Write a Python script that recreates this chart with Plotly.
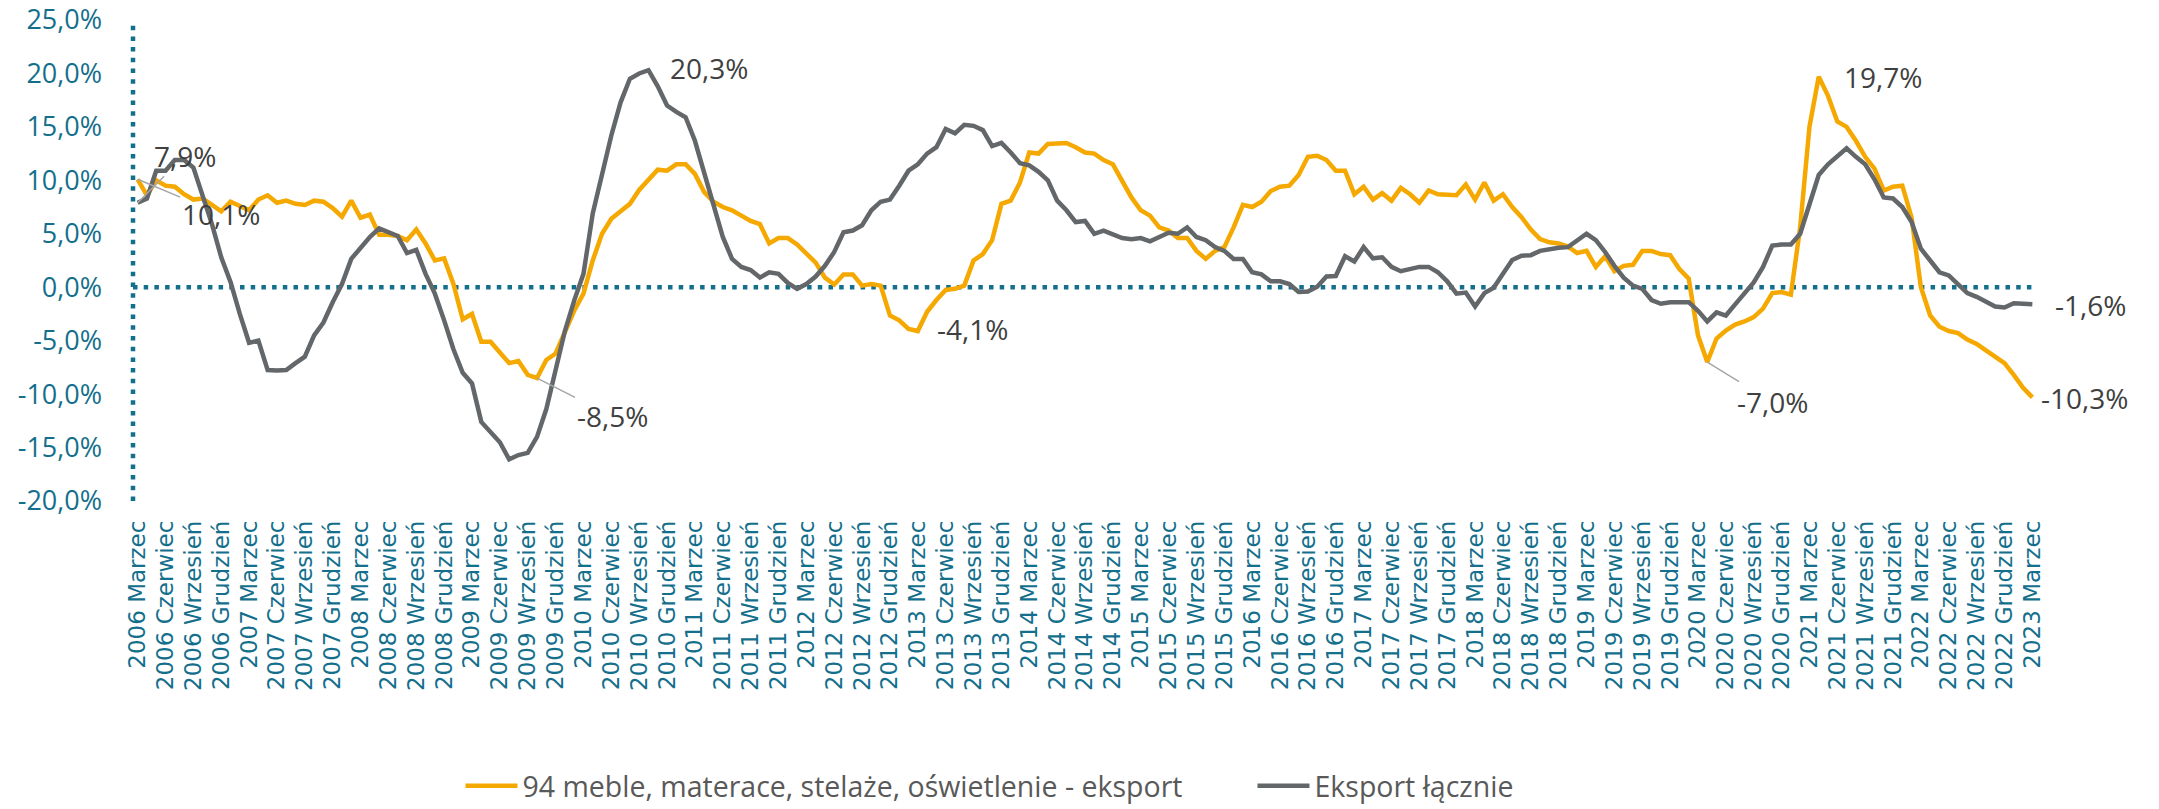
import plotly.graph_objects as go

# okres: 2006 Marzec - 2023 Marzec, dane miesięczne (dynamika r/r, %)
MIESIACE = ["Styczeń", "Luty", "Marzec", "Kwiecień", "Maj", "Czerwiec",
            "Lipiec", "Sierpień", "Wrzesień", "Październik", "Listopad", "Grudzień"]
POCZATEK = (2006, 3)
KONIEC = (2023, 3)

NAZWA_MEBLE = "94 meble, materace, stelaże, oświetlenie - eksport"
NAZWA_LACZNIE = "Eksport łącznie"

meble_eksport = [
    10.1, 8.6, 10.0, 9.5, 9.4, 8.7, 8.2, 8.3, 7.7, 7.1, 8.0, 7.6,
    7.2, 8.2, 8.6, 7.9, 8.1, 7.8, 7.7, 8.1, 8.0, 7.4, 6.6, 8.1,
    6.5, 6.8, 4.9, 4.9, 4.8, 4.4, 5.4, 4.1, 2.5, 2.7, 0.3, -3.0,
    -2.5, -5.1, -5.1, -6.1, -7.1, -6.9, -8.2, -8.5, -6.8, -6.2, -4.1, -2.2,
    -0.6, 2.5, 5.0, 6.4, 7.1, 7.8, 9.1, 10.0, 11.0, 10.9, 11.5, 11.5,
    10.6, 8.9, 8.0, 7.5, 7.2, 6.7, 6.2, 5.9, 4.1, 4.6, 4.6, 4.0,
    3.1, 2.3, 0.9, 0.25, 1.2, 1.2, 0.15, 0.3, 0.15, -2.65, -3.1, -3.9,
    -4.1, -2.3, -1.2, -0.25, -0.15, 0.15, 2.5, 3.1, 4.4, 7.8, 8.1, 9.8,
    12.6, 12.5, 13.4, 13.4, 13.5, 13.1, 12.6, 12.5, 11.9, 11.5, 10.0, 8.4,
    7.2, 6.7, 5.6, 5.3, 4.6, 4.6, 3.4, 2.65, 3.4, 3.75, 5.6, 7.7,
    7.5, 8.0, 9.0, 9.4, 9.5, 10.5, 12.2, 12.3, 11.9, 10.9, 10.9, 8.7,
    9.4, 8.2, 8.8, 8.1, 9.3, 8.7, 7.9, 9.05, 8.7, 8.6, 8.6, 9.6,
    8.2, 9.8, 8.1, 8.7, 7.5, 6.55, 5.4, 4.5, 4.2, 4.1, 3.8, 3.2,
    3.4, 1.9, 2.9, 1.5, 2.0, 2.1, 3.4, 3.4, 3.1, 3.0, 1.7, 0.8,
    -4.5, -7.0, -4.8, -4.05, -3.5, -3.2, -2.8, -2.0, -0.55, -0.45, -0.7, 5.6,
    15.0, 19.7, 17.9, 15.5, 15.0, 13.7, 12.2, 11.1, 9.05, 9.4, 9.5, 6.5,
    0.0, -2.65, -3.7, -4.1, -4.3, -4.9, -5.3, -5.9, -6.55, -7.1, -8.2, -9.4, -10.3,
]

eksport_lacznie = [
    7.9, 8.3, 10.9, 10.9, 11.9, 11.9, 11.2, 8.7, 5.9, 2.8, 0.5, -2.5,
    -5.2, -5.0, -7.75, -7.8, -7.75, -7.1, -6.5, -4.5, -3.3, -1.4, 0.3, 2.65,
    3.75, 4.7, 5.5, 5.2, 4.8, 3.2, 3.5, 1.25, -0.6, -3.1, -5.8, -8.0,
    -9.0, -12.6, -13.6, -14.5, -16.1, -15.7, -15.5, -14.0, -11.4, -7.8, -4.1, -1.25,
    1.25, 6.9, 10.6, 14.2, 17.3, 19.5, 20.0, 20.3, 18.8, 17.0, 16.4, 15.9,
    13.7, 10.6, 7.5, 4.7, 2.65, 1.9, 1.6, 0.9, 1.4, 1.25, 0.4, -0.15,
    0.3, 1.0, 2.0, 3.3, 5.15, 5.3, 5.8, 7.2, 8.0, 8.2, 9.5, 10.9,
    11.5, 12.5, 13.1, 14.8, 14.4, 15.2, 15.1, 14.7, 13.2, 13.5, 12.6, 11.6,
    11.4, 10.8, 10.0, 8.1, 7.2, 6.1, 6.2, 5.0, 5.3, 5.0, 4.6, 4.5,
    4.6, 4.3, 4.7, 5.1, 5.0, 5.6, 4.7, 4.4, 3.75, 3.4, 2.65, 2.65,
    1.4, 1.2, 0.55, 0.55, 0.3, -0.45, -0.4, 0.05, 1.0, 1.05, 2.9, 2.4,
    3.75, 2.7, 2.8, 1.9, 1.5, 1.7, 1.9, 1.9, 1.4, 0.55, -0.6, -0.5,
    -1.8, -0.55, -0.05, 1.25, 2.55, 2.95, 3.0, 3.4, 3.6, 3.7, 3.75, 4.4,
    5.0, 4.4, 3.3, 2.0, 0.9, 0.15, -0.15, -1.2, -1.55, -1.4, -1.35, -1.4,
    -2.2, -3.2, -2.35, -2.65, -1.6, -0.6, 0.45, 1.9, 3.9, 4.0, 4.0, 5.0,
    7.8, 10.5, 11.5, 12.3, 13.0, 12.2, 11.5, 10.1, 8.4, 8.3, 7.5, 6.1,
    3.6, 2.5, 1.4, 1.1, 0.25, -0.55, -0.9, -1.3, -1.8, -1.9, -1.5, -1.55, -1.6,
]

# punkty z etykietami danych (indeksy miesięcy)
etykiety_meble = [0, 43, 84, 169, 181, 204]
etykiety_lacznie = [0, 55, 204]

y_ticks = [-20, -15, -10, -5, 0, 5, 10, 15, 20, 25]

KOLOR_MEBLE = "#F5A800"
KOLOR_LACZNIE = "#63676A"
KOLOR_OSI = "#146F8C"
KOLOR_TEKSTU = "#404040"

# przesunięcie etykiety względem punktu (px) i czy rysować linię odniesienia
POZYCJE = {
    ("m", 0): (83, 35, True),
    ("m", 43): (75, 38, True),
    ("m", 84): (55, -2, False),
    ("m", 169): (65, 40, True),
    ("m", 181): (64, 0, False),
    ("m", 204): (52, 1, False),
    ("l", 0): (47, -47, True),
    ("l", 55): (61, -2, False),
    ("l", 204): (58, 1, False),
}


def okresy_miesieczne(poczatek, koniec):
    """Lista etykiet 'RRRR Miesiąc' od początku do końca (włącznie)."""
    wynik = []
    for rok in range(poczatek[0], koniec[0] + 1):
        for nr, nazwa in enumerate(MIESIACE, start=1):
            if poczatek <= (rok, nr) <= koniec:
                wynik.append(f"{rok} {nazwa}")
    return wynik


def format_pl(v):
    return f"{v:.1f}%".replace(".", ",")


okresy = okresy_miesieczne(POCZATEK, KONIEC)

fig = go.Figure()
fig.add_trace(go.Scatter(x=okresy, y=meble_eksport, mode="lines", name=NAZWA_MEBLE,
                         line=dict(color=KOLOR_MEBLE, width=4.5)))
fig.add_trace(go.Scatter(x=okresy, y=eksport_lacznie, mode="lines", name=NAZWA_LACZNIE,
                         line=dict(color=KOLOR_LACZNIE, width=4.5)))

# etykiety danych
for klucz, seria in (("m", meble_eksport), ("l", eksport_lacznie)):
    indeksy = etykiety_meble if klucz == "m" else etykiety_lacznie
    for i in indeksy:
        dx, dy, linia = POZYCJE[(klucz, i)]
        wspolne = dict(x=okresy[i], y=seria[i], text=format_pl(seria[i]),
                       font=dict(family="Open Sans", size=28, color=KOLOR_TEKSTU))
        if linia:
            fig.add_annotation(**wspolne, showarrow=True, ax=dx, ay=dy,
                               arrowhead=0, arrowwidth=1.5, arrowcolor="#A6A6A6",
                               standoff=0, startstandoff=0)
        else:
            fig.add_annotation(**wspolne, showarrow=False, xshift=dx, yshift=-dy)

# kropkowana oś Y i linia zera
kropki = dict(color=KOLOR_OSI, width=4.5, dash="4.5px,6.2px")
fig.add_shape(type="line", xref="paper", yref="y", x0=0, x1=0,
              y0=y_ticks[0], y1=y_ticks[-1], line=kropki, layer="below")
fig.add_shape(type="line", xref="paper", yref="y", x0=0, x1=1,
              y0=0, y1=0, line=kropki, layer="below")

fig.update_layout(
    width=2159,
    height=809,
    template="plotly_white",
    plot_bgcolor="white",
    paper_bgcolor="white",
    separators=", ",
    margin=dict(l=133, r=122, t=20, b=308, autoexpand=False),
    showlegend=True,
    legend=dict(
        orientation="h",
        x=0.172, xanchor="left",
        y=-0.593, yanchor="middle",
        font=dict(family="Open Sans", size=28.5, color="#595959"),
        itemwidth=52,
        entrywidth=725,
        bgcolor="rgba(0,0,0,0)",
    ),
    hovermode="x unified",
)

fig.update_xaxes(
    type="category",
    range=[-0.5, len(okresy) - 0.5],
    tickmode="array",
    tickvals=okresy[::3],
    ticktext=okresy[::3],
    tickangle=-90,
    tickfont=dict(family="DejaVu Sans", size=23, color=KOLOR_OSI),
    ticklabelstandoff=14,
    showgrid=False,
    showline=False,
    zeroline=False,
    ticks="",
    automargin=False,
)

fig.update_yaxes(
    range=[y_ticks[0], y_ticks[-1]],
    tickmode="array",
    tickvals=y_ticks,
    ticktext=[format_pl(v) for v in y_ticks],
    tickfont=dict(family="Open Sans", size=27, color=KOLOR_OSI),
    ticklabelstandoff=30,
    showgrid=False,
    showline=False,
    zeroline=False,
    ticks="",
    automargin=False,
)

fig.write_html("out.html", config={"displayModeBar": False},
               post_script="document.body.style.margin='0';document.body.style.overflow='hidden';")
